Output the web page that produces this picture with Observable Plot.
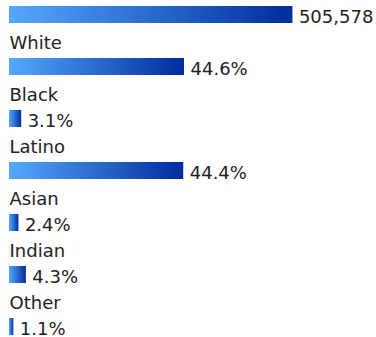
<!DOCTYPE html>
<html><head><meta charset="utf-8">
<script src="https://cdn.jsdelivr.net/npm/d3@7"></script>
<script src="https://cdn.jsdelivr.net/npm/@observablehq/plot@0.6"></script>
<style>body{margin:0;background:#fff}#chart svg{display:block}</style>
</head><body><div id="chart"></div>
<script>
const total = 505578;
const totalScaleMax = 700000;
const categories = ["White", "Black", "Latino", "Asian", "Indian", "Other"];
const percents = [44.6, 3.1, 44.4, 2.4, 4.3, 1.1];

const rows = [{key: "Total", label: null, frac: total / totalScaleMax, text: d3.format(",")(total)}]
  .concat(categories.map((c, i) => ({key: c, label: c, frac: percents[i] / 100, text: percents[i].toFixed(1) + "%"})));

const gradient = () => {
  const defs = d3.create("svg:defs");
  const g = defs.append("linearGradient").attr("id", "barGrad")
    .attr("x1", "0").attr("x2", "1").attr("y1", "0").attr("y2", "0");
  g.append("stop").attr("offset", "0%").attr("stop-color", "#55a8ff");
  g.append("stop").attr("offset", "100%").attr("stop-color", "#002d9c");
  return defs.node();
};

const chart = Plot.plot({
  width: 376, height: 337, margin: 0,
  x: {domain: [0, 1], range: [9, 401.4], axis: null},
  y: {domain: rows.map(d => d.key), range: [6, 335], paddingInner: 35 / 52, paddingOuter: 0, align: 0, axis: null},
  style: {fontFamily: "DejaVu Sans", fontSize: "18px", color: "#222", background: "#fff"},
  marks: [
    gradient,
    Plot.barX(rows, {x1: 0, x2: "frac", y: "key", fill: "url(#barGrad)"}),
    Plot.text(rows, {x: "frac", y: "key", text: "text", textAnchor: "start", dx: 6, dy: 2.5, fontSize: 18, fill: "#222"}),
    Plot.text(rows.filter(d => d.label), {x: 0, y: "key", text: "label", textAnchor: "start", dy: -24.2, fontSize: 18, fill: "#222"})
  ]
});
document.getElementById("chart").append(chart);
</script>
</body></html>
